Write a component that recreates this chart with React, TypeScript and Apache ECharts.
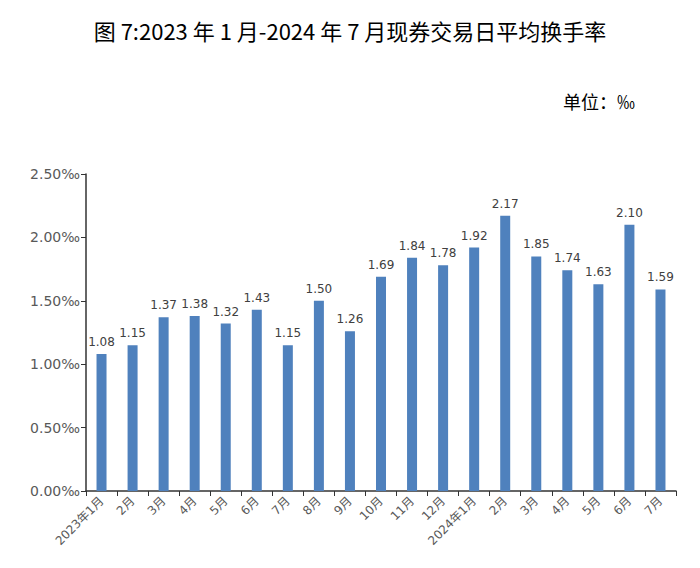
import React, { useEffect, useRef } from "react";
import * as echarts from "echarts";

const categories = [
  "2023年1月", "2月", "3月", "4月", "5月", "6月", "7月", "8月", "9月", "10月", "11月", "12月",
  "2024年1月", "2月", "3月", "4月", "5月", "6月", "7月",
];
const turnover = [1.08, 1.15, 1.37, 1.38, 1.32, 1.43, 1.15, 1.5, 1.26, 1.69, 1.84, 1.78, 1.92, 2.17, 1.85, 1.74, 1.63, 2.1, 1.59];
const titleText = "图 7:2023 年 1 月-2024 年 7 月现券交易日平均换手率";
const unitText = "单位：‰";

export default function App() {
  const ref = useRef<HTMLDivElement>(null);
  useEffect(() => {
    if (!ref.current) return;
    const chart = echarts.init(ref.current, null, { renderer: "svg" });
    chart.setOption({
      animation: false,
      backgroundColor: "#ffffff",
      title: {
        text: titleText,
        left: "center",
        top: 14,
        textStyle: { fontFamily: "Noto Sans CJK SC", fontSize: 22, fontWeight: "normal", color: "#000" },
      },
      graphic: [
        {
          type: "text",
          left: 563,
          top: 92,
          style: { text: unitText, fontFamily: "Noto Sans CJK SC", fontSize: 18, fill: "#000" },
        },
      ],
      grid: { left: 86, right: 24, top: 174, bottom: 77, containLabel: false },
      xAxis: {
        type: "category",
        data: categories,
        axisLine: { lineStyle: { color: "#333", width: 1.5 } },
        axisTick: { show: true, alignWithLabel: false, length: 5, lineStyle: { color: "#333" } },
        axisLabel: {
          rotate: 45,
          interval: 0,
          color: "#595959",
          fontSize: 12,
          fontFamily: "DejaVu Sans, Noto Sans CJK SC",
          margin: 8,
        },
      },
      yAxis: {
        type: "value",
        min: 0,
        max: 2.5,
        interval: 0.5,
        splitLine: { show: false },
        axisLine: { show: true, lineStyle: { color: "#333", width: 1.5 } },
        axisTick: { show: true, length: 5, lineStyle: { color: "#333" } },
        axisLabel: {
          color: "#595959",
          fontSize: 14,
          fontFamily: "DejaVu Sans",
          margin: 6,
          formatter: (v: number) => v.toFixed(2) + "‰",
        },
      },
      series: [
        {
          type: "bar",
          data: turnover,
          barWidth: 10,
          itemStyle: { color: "#4F81BD" },
          label: {
            show: true,
            position: "top",
            distance: 6,
            color: "#404040",
            fontSize: 12,
            fontFamily: "DejaVu Sans",
            formatter: (p: any) => p.value.toFixed(2),
          },
        },
      ],
    });
    return () => chart.dispose();
  }, []);
  return <div ref={ref} style={{ width: 700, height: 568, margin: -8 }} />;
}
